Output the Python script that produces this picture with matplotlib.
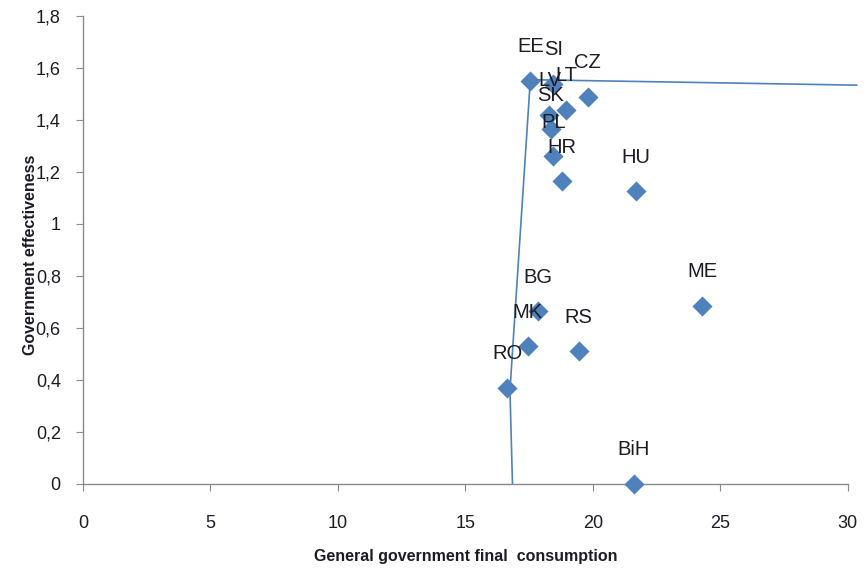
import numpy as np
import matplotlib
matplotlib.use("Agg")
import matplotlib.pyplot as plt

# country scatter: final consumption (x) vs government effectiveness (y)
countries = ["EE", "SI", "LV", "LT", "CZ", "SK", "PL", "HR", "HU",
             "BG", "MK", "RO", "RS", "ME", "BiH"]
consumption = [17.55, 18.45, 18.3, 18.95, 19.8, 18.35, 18.45, 18.8, 21.7,
               17.85, 17.45, 16.65, 19.45, 24.3, 21.6]
effectiveness = [1.55, 1.54, 1.42, 1.44, 1.49, 1.365, 1.26, 1.165, 1.125,
                 0.665, 0.53, 0.37, 0.51, 0.685, 0.0]

# frontier line
front_x = [16.85, 16.75, 17.55, 30.35]
front_y = [0.0, 0.36, 1.555, 1.534]

yticks = [0, 0.2, 0.4, 0.6, 0.8, 1.0, 1.2, 1.4, 1.6, 1.8]
ylabels = ["0", "0,2", "0,4", "0,6", "0,8", "1", "1,2", "1,4", "1,6", "1,8"]
xticks = [0, 5, 10, 15, 20, 25, 30]

blue = "#4F81BD"
ink = "#1c1c24"
plt.rcParams['font.family'] = ['Liberation Sans', 'DejaVu Sans']

fig = plt.figure(figsize=(8.68, 5.69), dpi=100)
ax = fig.add_axes([0.0956, 0.1494, 0.881, 0.8225])

ax.plot(front_x, front_y, color=blue, lw=1.2, clip_on=False, zorder=2)
ax.scatter(consumption, effectiveness, marker="D", s=105, color=blue,
           clip_on=False, zorder=3, linewidths=0)

for c, x, y in zip(countries, consumption, effectiveness):
    ax.annotate(c, (x, y), xytext=(0, 24.5), textcoords="offset points",
                ha="center", va="center", fontsize=14.5, color=ink,
                zorder=4, annotation_clip=False)

ax.set_xlim(0, 30)
ax.set_ylim(0, 1.8)
ax.set_xticks(xticks)
ax.set_yticks(yticks)
ax.set_yticklabels(ylabels)

for s in ["top", "right"]:
    ax.spines[s].set_visible(False)
for s in ["left", "bottom"]:
    ax.spines[s].set_color("#8a8a8a")
    ax.spines[s].set_linewidth(1.0)
ax.tick_params(axis="both", direction="out", length=5, color="#8a8a8a",
               labelsize=13, labelcolor=ink)
ax.tick_params(axis="x", pad=17)
ax.tick_params(axis="y", pad=11)

ax.set_xlabel("General government final  consumption", fontsize=11.5,
              fontweight="bold", color=ink, va="center")
ax.set_ylabel("Government effectiveness", fontsize=11.5, fontweight="bold",
              color=ink, va="center")
ax.xaxis.set_label_coords(0.5, -0.156)
ax.yaxis.set_label_coords(-0.069, 0.49)

fig.savefig("out.png", dpi=100)
